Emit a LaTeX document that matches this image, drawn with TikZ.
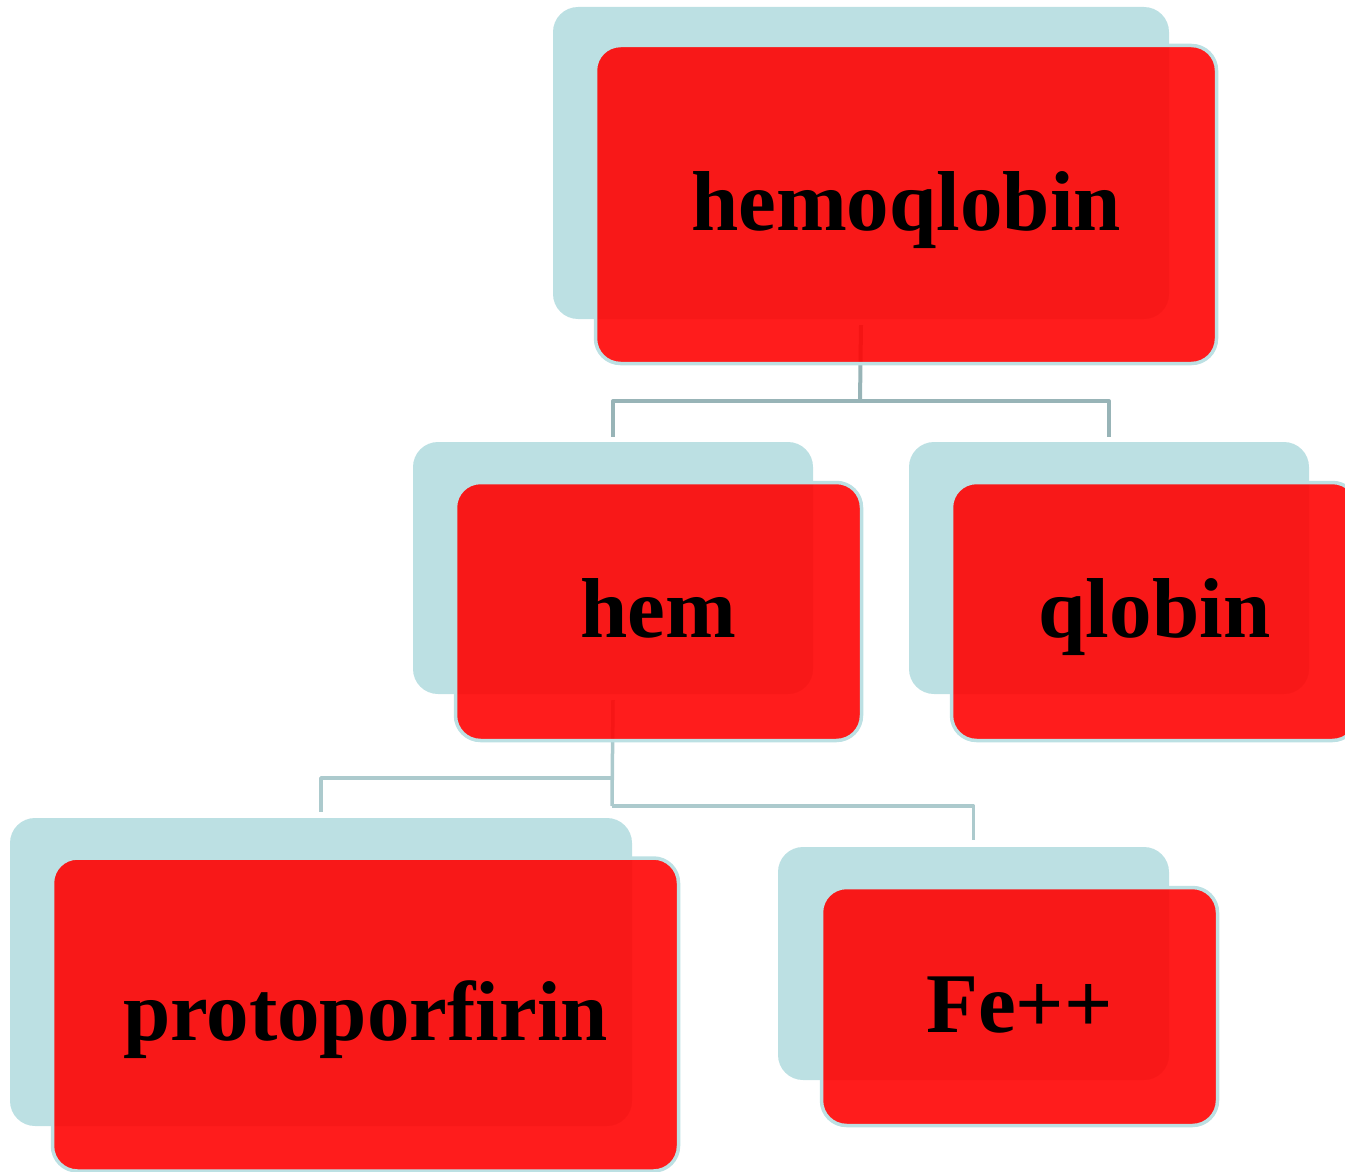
\documentclass[tikz,border=0pt]{standalone}
\usepackage{fontspec}
\setmainfont{Liberation Serif}
\definecolor{shadowblue}{RGB}{188,224,227}
\definecolor{boxred}{RGB}{255,3,3}
\definecolor{connA}{RGB}{152,180,183}
\definecolor{connB}{RGB}{172,202,205}
\tikzset{
  shadowbox/.style={fill=shadowblue, draw=none, rounded corners=25pt, inner sep=0pt},
  redbox/.style={fill=boxred, fill opacity=0.9, text opacity=1, draw=shadowblue, draw opacity=1,
    line width=3.5pt, rounded corners=25pt, inner sep=0pt,
    text height=52pt, text depth=0pt,
    font=\fontsize{85}{95}\selectfont\bfseries, text=black},
  connTop/.style={draw=connA, line width=4pt, line join=round},
  connLow/.style={draw=connB, line width=3.5pt, line join=round}
}
\begin{document}
\begin{tikzpicture}[x=1pt,y=-1pt]
\useasboundingbox (0,0) rectangle (1345,1172);
% shadows
\node[shadowbox, minimum width=616pt, minimum height=312pt] (hemoS) at (861,163) {};
\node[shadowbox, minimum width=400pt, minimum height=252pt] (hemS) at (613,568) {};
\node[shadowbox, minimum width=400pt, minimum height=252pt] (qloS) at (1109,568) {};
\node[shadowbox, minimum width=622pt, minimum height=308pt] (protoS) at (321,972) {};
\node[shadowbox, minimum width=391pt, minimum height=233pt] (feS) at (973.5,963.5) {};
% connectors
\coordinate (j1) at (860,401);
\coordinate (j2) at (612,778);
\coordinate (j3) at (612,806);
\draw[connTop] ([yshift=-6pt]hemoS.south) -- (j1);
\draw[connTop] ([yshift=5pt]hemS.north) |- (j1) -| ([yshift=5pt]qloS.north);
\draw[connLow] ([yshift=-6pt]hemS.south) -- (j3);
\draw[connLow] (j2) -| ([yshift=6pt]protoS.north);
\draw[connLow] (j3) -| ([yshift=7pt]feS.north);
% main boxes
\node[redbox, minimum width=621pt, minimum height=318pt] (hemo) at (906,204.5) {hemoqlobin};
\node[redbox, minimum width=406pt, minimum height=258pt] (hem) at (658.5,611.5) {hem};
\node[redbox, minimum width=406pt, minimum height=258pt] (qlo) at (1154.5,611.5) {qlobin};
\node[redbox, minimum width=626pt, minimum height=313pt] (proto) at (365.5,1014.5) {protoporfirin};
\node[redbox, minimum width=396pt, minimum height=238pt] (fe) at (1019.5,1006.5) {Fe++};
\end{tikzpicture}
\end{document}
